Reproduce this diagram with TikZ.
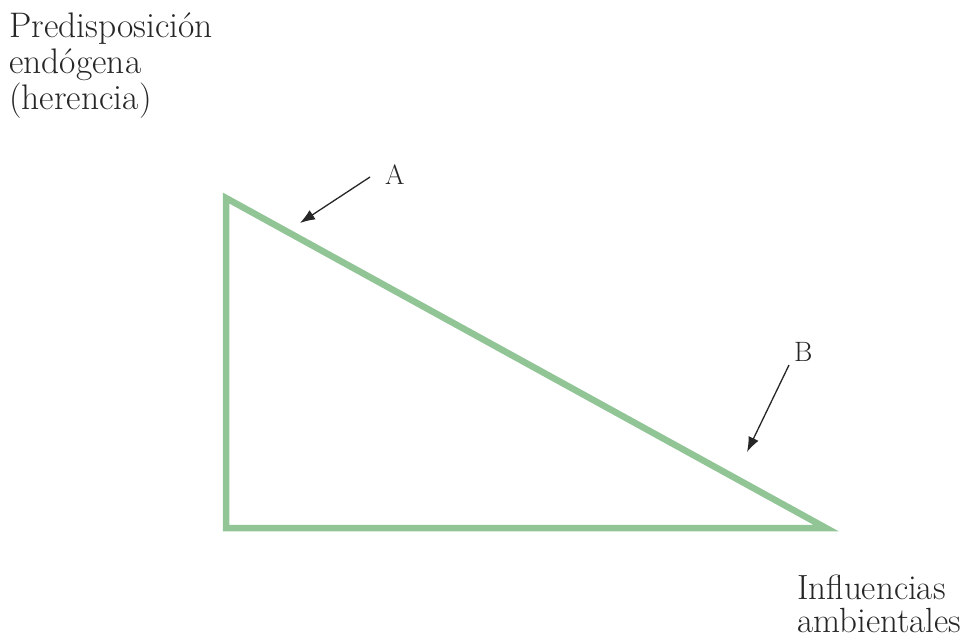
\documentclass[tikz,border=0pt]{standalone}
\usepackage{fontspec}
\definecolor{trigreen}{RGB}{145,197,150}
\tikzset{
  tri/.style={draw=trigreen, line width=6.5pt, line join=miter},
  pointer/.style={draw=black!85, line width=1.3pt, -{Latex[length=15pt,width=11pt]}},
  bigtext/.style={align=left, inner sep=0pt, text=black!85},
  letter/.style={font=\fontsize{28}{30}\selectfont, inner sep=0pt, text=black!85}
}
\usetikzlibrary{arrows.meta}
\begin{document}
\begin{tikzpicture}[x=1pt,y=-1pt]
\useasboundingbox (0,0) rectangle (964,638);
\coordinate (tl) at (226,198);
\coordinate (bl) at (226,528);
\coordinate (br) at (826,528);
\draw[tri] (tl) -- (bl) -- (br) -- cycle;
\node[bigtext, font=\fontsize{35.5}{36}\selectfont, anchor=base west] (pred) at (9,109) {Predisposición\\endógena\\(herencia)};
\node[bigtext, font=\fontsize{35}{33}\selectfont, anchor=base west] (infl) at (797,632) {Influencias\\ambientales};
\node[letter, anchor=base west] (A) at (385,184) {A};
\node[letter, anchor=base west] (B) at (794,361) {B};
\coordinate (As) at (370,177);
\coordinate (At) at (300,223);
\coordinate (Bs) at (789,365);
\coordinate (Bt) at (747,452);
\draw[pointer] (As) -- (At);
\draw[pointer] (Bs) -- (Bt);
\end{tikzpicture}
\end{document}
